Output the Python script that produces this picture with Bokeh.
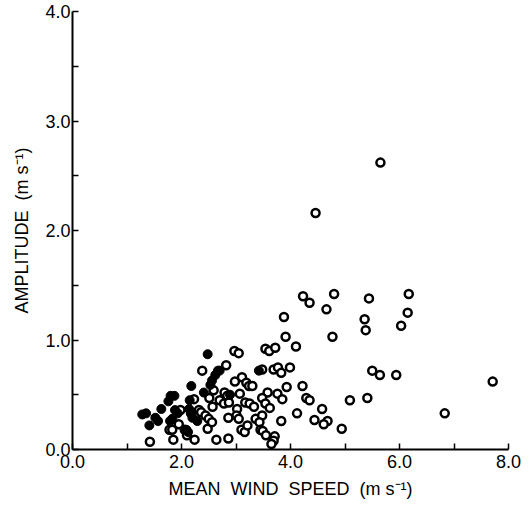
from bokeh.plotting import figure
from bokeh.models import Range1d, FixedTicker
from bokeh.embed import file_html
from bokeh.resources import INLINE

# Filled (solid) points: mean wind speed (m/s), amplitude (m/s)
filled_x = [1.28, 1.35, 1.41, 1.52, 1.57, 1.63, 1.76, 1.80, 1.87, 1.88, 1.93, 1.79, 1.83,
            2.09, 2.12, 2.18, 2.15, 2.14, 2.17, 2.20, 2.29, 2.48, 2.41, 2.53, 2.56, 2.62,
            2.67, 2.70, 2.89, 3.42]
filled_y = [0.32, 0.33, 0.22, 0.29, 0.26, 0.37, 0.44, 0.49, 0.49, 0.36, 0.33, 0.26, 0.28,
            0.18, 0.16, 0.58, 0.45, 0.37, 0.33, 0.29, 0.26, 0.87, 0.52, 0.59, 0.63, 0.68,
            0.72, 0.72, 0.50, 0.72]

# Open points
open_x = [1.42, 1.78, 1.83, 1.85, 1.98, 1.95, 2.06, 2.10, 2.24, 2.23, 2.32, 2.36, 2.38,
          2.51, 2.44, 2.50, 2.48, 2.59, 2.57, 2.56, 2.64, 2.70, 2.79, 2.84, 2.82, 2.78,
          2.87, 2.86, 2.86, 2.97, 3.05, 2.98, 3.02, 3.01, 3.05, 3.07, 3.11, 3.19, 3.24,
          3.30, 3.10, 3.16, 3.17, 3.25, 3.33, 3.21, 3.36,
          3.54, 3.61, 3.72, 3.48, 3.69, 3.77, 3.83, 3.99, 5.50, 5.64, 5.94, 4.22, 3.93,
          3.58, 3.76, 3.48, 3.85, 4.29, 4.35, 5.09, 5.41, 3.54, 3.62, 4.12, 4.58, 3.48,
          3.43, 3.83, 4.44, 4.68, 4.61, 4.94, 3.45, 3.49, 3.55, 3.71, 3.69, 3.65,
          5.65, 4.46, 4.23, 4.35, 4.80, 5.44, 6.17, 3.88, 4.66, 5.36, 6.15, 5.38, 6.03,
          3.91, 4.77, 4.10, 7.71, 6.83]
open_y = [0.07, 0.18, 0.18, 0.09, 0.36, 0.23, 0.18, 0.13, 0.09, 0.46, 0.36, 0.34, 0.72,
          0.47, 0.31, 0.28, 0.19, 0.54, 0.39, 0.25, 0.09, 0.45, 0.52, 0.49, 0.77, 0.42,
          0.43, 0.29, 0.10, 0.90, 0.88, 0.62, 0.37, 0.31, 0.28, 0.51, 0.66, 0.61, 0.58,
          0.58, 0.18, 0.16, 0.43, 0.42, 0.39, 0.22, 0.28,
          0.92, 0.90, 0.93, 0.73, 0.73, 0.75, 0.70, 0.75, 0.72, 0.68, 0.68, 0.58, 0.57,
          0.52, 0.51, 0.47, 0.46, 0.47, 0.45, 0.45, 0.47, 0.42, 0.38, 0.33, 0.37, 0.31,
          0.25, 0.26, 0.27, 0.26, 0.23, 0.19, 0.18, 0.17, 0.13, 0.12, 0.08, 0.05,
          2.62, 2.16, 1.40, 1.34, 1.42, 1.38, 1.42, 1.21, 1.28, 1.19, 1.25, 1.09, 1.13,
          1.03, 1.03, 0.94, 0.62, 0.33]

x_major = [0, 2, 4, 6, 8]
x_minor = [1, 3, 5, 7]
y_major = [0, 1, 2, 3, 4]
y_minor = [0.5, 1.5, 2.5, 3.5]
x_labels = {0: "0.0", 2: "2.0", 4: "4.0", 6: "6.0", 8: "8.0"}
y_labels = {0: "0.0", 1: "1.0", 2: "2.0", 3: "3.0", 4: "4.0"}

FONT = "Liberation Sans"

p = figure(width=532, height=506, output_backend="svg", toolbar_location=None,
           x_range=Range1d(0, 8), y_range=Range1d(0, 4),
           min_border_left=72, min_border_right=24, min_border_top=11,
           min_border_bottom=57)
p.outline_line_color = None
p.xgrid.grid_line_color = None
p.ygrid.grid_line_color = None
p.background_fill_color = "white"
p.border_fill_color = "white"

p.scatter(open_x, open_y, size=8, marker="circle", fill_color="white",
          line_color="black", line_width=2.5)
p.scatter(filled_x, filled_y, size=9, marker="circle", fill_color="black",
          line_color="black", line_width=1)

for ax, maj, mnr, labs in ((p.xaxis[0], x_major, x_minor, x_labels),
                           (p.yaxis[0], y_major, y_minor, y_labels)):
    ax.ticker = FixedTicker(ticks=maj, minor_ticks=mnr)
    ax.major_label_overrides = labs
    ax.axis_line_width = 2
    ax.axis_line_color = "black"
    ax.major_tick_in = 6
    ax.major_tick_out = 0
    ax.minor_tick_in = 6
    ax.minor_tick_out = 0
    ax.major_tick_line_width = 1.5
    ax.minor_tick_line_width = 1.5
    ax.major_label_text_font = FONT
    ax.major_label_text_font_size = "18px"
    ax.major_label_text_color = "black"
    ax.axis_label_text_font = FONT
    ax.axis_label_text_font_size = "18px"
    ax.axis_label_text_font_style = "normal"
    ax.axis_label_text_color = "black"

p.xaxis.axis_label = "MEAN\u00a0 WIND\u00a0 SPEED\u00a0 (m\u00a0s\u207b\u00b9)"
p.yaxis.axis_label = "AMPLITUDE\u00a0 (m\u00a0s\u207b\u00b9)"
p.xaxis.major_label_standoff = 5
p.yaxis.major_label_standoff = 2
p.xaxis.axis_label_standoff = 8
p.yaxis.axis_label_standoff = 10

open("out.html", "w").write(file_html(p, INLINE))
